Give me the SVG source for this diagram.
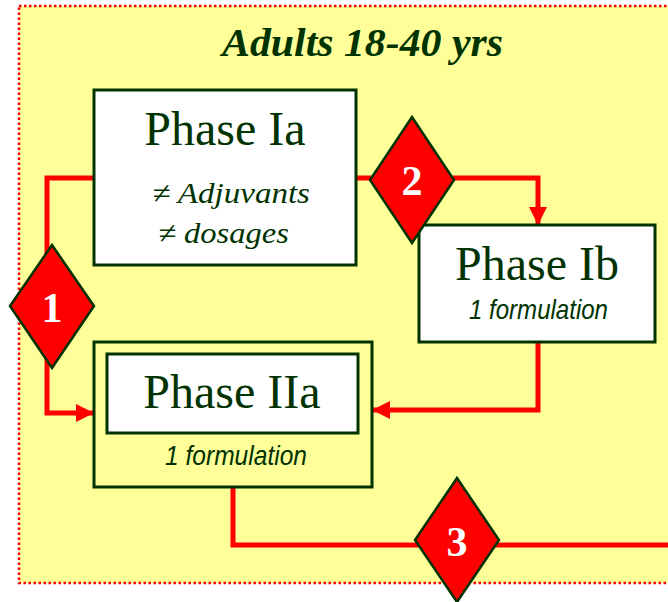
<svg xmlns="http://www.w3.org/2000/svg" width="668" height="602" viewBox="0 0 668 602">
<defs>
<style>
.bg{fill:#FFFF99;stroke:#FF0000;stroke-width:2.5;stroke-dasharray:2.5 2.5}
.box{fill:#FFFFFF;stroke:#003300;stroke-width:3}
.obox{fill:#FFFF99;stroke:#003300;stroke-width:3}
.dia{fill:#FF0000;stroke:#003300;stroke-width:2.5;stroke-linejoin:miter}
.con{fill:none;stroke:#FF0000;stroke-width:5}
.ph{font-family:"Liberation Serif","Times New Roman",serif;font-size:48px;fill:#003300;text-anchor:middle}
.it{font-family:"Liberation Serif","Times New Roman",serif;font-size:30px;font-style:italic;fill:#003300}
.fm{font-family:"Liberation Sans",Arial,sans-serif;font-size:28px;font-style:italic;fill:#003300}
.num{font-family:"Liberation Serif","Times New Roman",serif;font-size:42px;font-weight:bold;fill:#FFFFFF;text-anchor:middle}
.title{font-family:"Liberation Serif","Times New Roman",serif;font-size:41px;font-weight:bold;font-style:italic;fill:#003300}
</style>
<marker id="arr" markerUnits="userSpaceOnUse" markerWidth="18" markerHeight="18" viewBox="0 0 18 18" refX="18" refY="9" orient="auto">
<path d="M0,0 L18,9 L0,18 Z" fill="#FF0000"/>
</marker>
</defs>
<rect class="bg" x="19" y="6" width="680" height="577"/>
<text class="title" x="222" y="56" textLength="281" lengthAdjust="spacingAndGlyphs">Adults 18-40 yrs</text>
<g id="connectors">
<polyline class="con" points="94,178 47,178 47,413 94,413" marker-end="url(#arr)"/>
<polyline class="con" points="356,178 538,178 538,225" marker-end="url(#arr)"/>
<polyline class="con" points="538,342 538,410 372,410" marker-end="url(#arr)"/>
<polyline class="con" points="233,487 233,545 670,545"/>
</g>
<g id="phaseIa">
<rect class="box" x="94" y="90" width="262" height="175"/>
<text class="ph" x="225" y="145">Phase Ia</text>
<text class="it" x="152" y="203" textLength="158" lengthAdjust="spacingAndGlyphs">≠ Adjuvants</text>
<text class="it" x="158" y="243" textLength="131" lengthAdjust="spacingAndGlyphs">≠ dosages</text>
</g>
<g id="phaseIb">
<rect class="box" x="419" y="225" width="236" height="117"/>
<text class="ph" x="537" y="280">Phase Ib</text>
<text class="fm" x="469" y="319" textLength="139" lengthAdjust="spacingAndGlyphs">1 formulation</text>
</g>
<g id="phaseIIa">
<rect class="obox" x="94" y="342" width="278" height="145"/>
<rect class="box" x="107" y="354" width="251" height="79"/>
<text class="ph" x="232" y="408">Phase IIa</text>
<text class="fm" x="165" y="465" textLength="142" lengthAdjust="spacingAndGlyphs">1 formulation</text>
</g>
<g id="decision1">
<polygon class="dia" points="52,245 94,306 52,368 10,306"/>
<text class="num" x="52" y="322">1</text>
</g>
<g id="decision2">
<polygon class="dia" points="412,117 454,180 412,243 370,180"/>
<text class="num" x="412" y="195">2</text>
</g>
<g id="decision3">
<polygon class="dia" points="457,478 499,540 457,602 415,540"/>
<text class="num" x="457" y="556">3</text>
</g>
</svg>
